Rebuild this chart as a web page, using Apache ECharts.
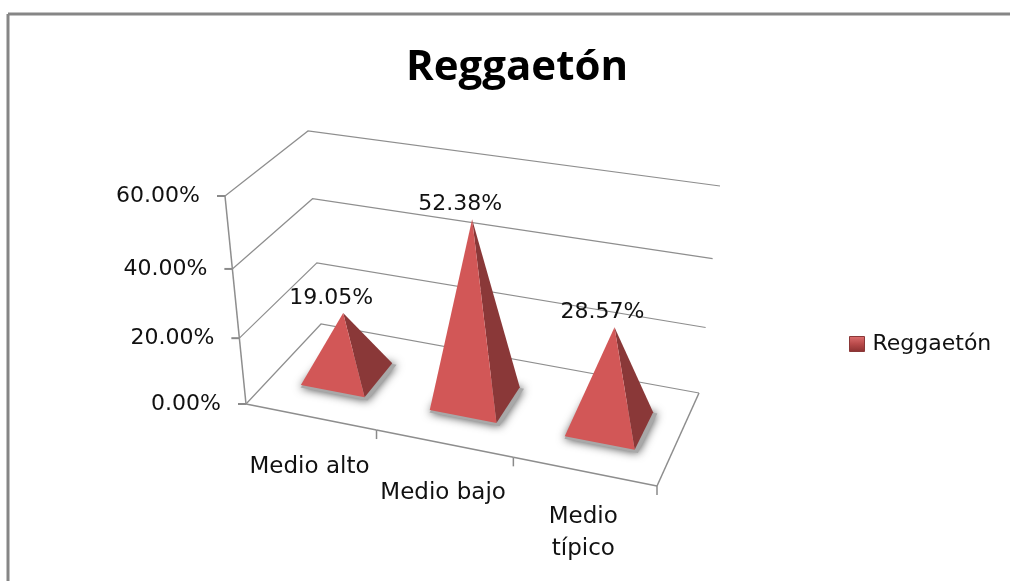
<!DOCTYPE html>
<html><head><meta charset="utf-8">
<style>html,body{margin:0;padding:0;background:#fff}#c{width:1010px;height:581px}</style>
<script src="https://cdn.jsdelivr.net/npm/echarts@6/dist/echarts.min.js"></script>
</head><body><div id="c"></div>
<script>
const seriesName = 'Reggaetón';
const titleText = 'Reggaetón';
const categories = ['Medio alto', 'Medio bajo', 'Medio\ntípico'];
const values = [19.05, 52.38, 28.57];
const axisTicks = [0, 20, 40, 60];
const tickLabels = ['0.00%', '20.00%', '40.00%', '60.00%'];

const FONT = '"DejaVu Sans"';
const GRID = '#8e8e8e';
const floorQuad = [[246,404],[657,486],[699,393],[321,324]];
const topQuad = [[225,196],[676,266],[720,186],[308,131]];
const persp = 1.08;

function homography(q){
  const [[x0,y0],[x1,y1],[x2,y2],[x3,y3]] = q;
  const dx1=x1-x2, dx2=x3-x2, sx=x0-x1+x2-x3;
  const dy1=y1-y2, dy2=y3-y2, sy=y0-y1+y2-y3;
  const den=dx1*dy2-dx2*dy1;
  const g=(sx*dy2-dx2*sy)/den, h=(dx1*sy-sx*dy1)/den;
  const a=x1-x0+g*x1, b=x3-x0+h*x3, d=y1-y0+g*y1, e=y3-y0+h*y3;
  return (u,v)=>{const w=g*u+h*v+1;return [(a*u+b*v+x0)/w,(d*u+e*v+y0)/w];};
}
const hFloor=homography(floorQuad), hTop=homography(topQuad);
// u: along categories, d: depth, v: 0..1 along the value axis
function project(u,d,v){
  const t=v/(v+(1-v)*persp);
  const p=hFloor(u,d), q=hTop(u,d);
  return [p[0]+(q[0]-p[0])*t, p[1]+(q[1]-p[1])*t];
}
function norm(params,api,i,val,bandOff){
  const c=params.coordSys, px=api.coord([i,val]), band=api.size([1,0])[0];
  return {u:(px[0]+bandOff*band-c.x)/c.width, v:(c.y+c.height-px[1])/c.height, bu:band/c.width};
}
function line(pts,w,color){
  return {type:'polyline',shape:{points:pts},style:{fill:null,stroke:color||GRID,lineWidth:w||1},silent:true};
}
function text(x,y,s,align,vAlign,size,lh,color){
  return {type:'text',x,y,style:{text:s,fill:color||'#111',font:`${size||22}px ${FONT}`,align:align||'center',verticalAlign:vAlign||'middle',lineHeight:lh||undefined},silent:true};
}

const wallItem=(params,api)=>{
  const val=api.value(1), idx=params.dataIndex;
  const n=norm(params,api,0,val,-0.5);
  const v=n.v;
  const a=project(0,0,v), b=project(0,1,v), c=project(1,1,v);
  const ch=[line([a,b,c],1.2),
    line([[a[0]-8,a[1]],a],2,'#8a8a8a'),
    text(a[0]-25,a[1],tickLabels[idx],'right')];
  if(idx<axisTicks.length-1){
    const nx=norm(params,api,0,api.value(1)+20,-0.5);
    ch.push(line([a,project(0,0,nx.v)],1.5));
  }
  return {type:'group',children:ch};
};
const floorItem=(params,api)=>{
  const i=api.value(0);
  const n=norm(params,api,i,0,0.5), nc=norm(params,api,i,0,0);
  const p0=project(n.u-n.bu,0,0), p1=project(n.u,0,0), pc=project(nc.u,0,0);
  const label=categories[i], multi=label.indexOf('\n')>=0;
  const ch=[line([p0,p1],1.5),line([p1,[p1[0],p1[1]+9]],1.5,'#8a8a8a'),
    text(pc[0]-1,pc[1]+(multi?30:34),label,'center','top',23,32)];
  if(i===categories.length-1) ch.push(line([p1,project(1,1,0)],1.5));
  return {type:'group',children:ch};
};
const pyramidItem=(params,api)=>{
  const i=api.value(0), val=api.value(1);
  const n=norm(params,api,i,val,0);
  const hu=0.25*n.bu, dc=0.5, hd=0.205;
  const left=project(n.u-hu,dc-hd,0), front=project(n.u+hu,dc-hd,0),
        right=project(n.u+hu,dc+hd,0), back=project(n.u-hu,dc+hd,0),
        apex=project(n.u,dc,n.v);
  const base=[left,front,right,back];
  const cx=base.reduce((s,p)=>s+p[0],0)/4, cy=base.reduce((s,p)=>s+p[1],0)/4;
  const grown=base.map(p=>[cx+(p[0]-cx)*1.05+2,cy+(p[1]-cy)*1.05+2]);
  return {type:'group',children:[
    {type:'polygon',shape:{points:grown},
      style:{fill:'#a8a8a8',shadowBlur:10,shadowColor:'#444'},silent:true},
    {type:'polygon',shape:{points:[apex,front,right]},style:{fill:'#8A3838'},silent:true},
    {type:'polygon',shape:{points:[apex,left,front]},style:{fill:'#D25757'},silent:true},
    text(apex[0]-12,apex[1]-15,val.toFixed(2)+'%')
  ]};
};

const option={
  animation:false,backgroundColor:'#fff',
  title:{text:titleText,left:512,top:42,textAlign:'center',
    textStyle:{fontFamily:'"Open Sans"',fontWeight:'bold',fontSize:42,color:'#000'}},
  legend:{data:[seriesName],left:844,top:328,icon:'rect',itemWidth:15,itemHeight:15,itemGap:8,
    itemStyle:{color:{type:'linear',x:0,y:0,x2:0,y2:1,colorStops:[{offset:0,color:'#DE7070'},{offset:0.5,color:'#B84A4A'},{offset:1,color:'#8A3030'}]},borderColor:'#8A3838',borderWidth:1},
    textStyle:{fontFamily:FONT,fontSize:22,color:'#111',padding:[0,0,0,3]}},
  grid:{left:246,right:311,top:131,bottom:95},
  xAxis:{type:'category',data:categories,show:false},
  yAxis:{type:'value',min:0,max:60,interval:20,show:false},
  graphic:[
    {type:'line',shape:{x1:8,y1:14,x2:1010,y2:14},style:{stroke:'#868686',lineWidth:3}},
    {type:'line',shape:{x1:8,y1:14,x2:8,y2:581},style:{stroke:'#868686',lineWidth:3}}
  ],
  series:[
    {type:'custom',name:'walls',silent:true,z:1,renderItem:wallItem,data:axisTicks.map(t=>[0,t])},
    {type:'custom',name:'floor',silent:true,z:1,renderItem:floorItem,data:categories.map((c,i)=>[i,0])},
    {type:'custom',name:seriesName,silent:true,z:2,renderItem:pyramidItem,data:values.map((v,i)=>[i,v]),
      itemStyle:{color:'#C0504D'}}
  ]
};
echarts.init(document.getElementById('c'),null,{renderer:'canvas'}).setOption(option);
</script></body></html>
